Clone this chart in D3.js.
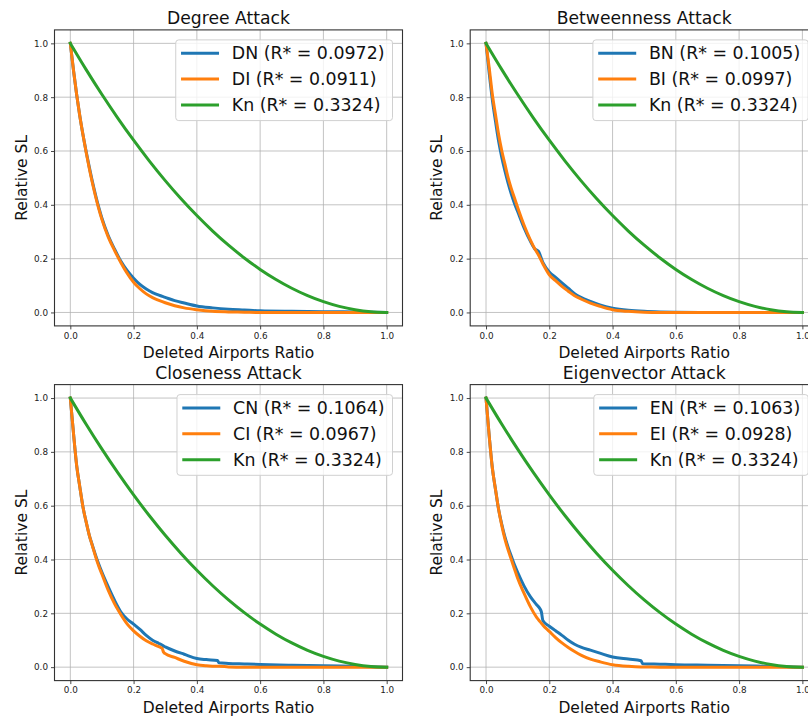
<!DOCTYPE html>
<html>
<head>
<meta charset="utf-8">
<script src="https://cdn.jsdelivr.net/npm/d3@7"></script>
<style>
  html, body { margin: 0; padding: 0; background: #fff; }
  svg { display: block; font-family: "DejaVu Sans", sans-serif; }
</style>
</head>
<body>
<svg id="chart" width="808" height="717"></svg>
<script>
// ---------- data ----------
const xTicks = [0, 0.2, 0.4, 0.6, 0.8, 1.0];
const yTicks = [0, 0.2, 0.4, 0.6, 0.8, 1.0];
const panelTitles = ["Degree Attack", "Betweenness Attack", "Closeness Attack", "Eigenvector Attack"];
const xLabel = "Deleted Airports Ratio";
const yLabel = "Relative SL";

// Kn (common to all panels)
const knX = [0,0.05,0.1,0.15,0.2,0.25,0.3,0.35,0.4,0.45,0.5,0.55,0.6,0.65,0.7,0.75,0.8,0.85,0.9,0.95,1.0];
const knY = [1,0.9025,0.81,0.7225,0.64,0.5625,0.49,0.4225,0.36,0.3025,0.25,0.2025,0.16,0.1225,0.09,0.0625,0.04,0.0225,0.01,0.0025,0];
const knLabel = "Kn (R* = 0.3324)";

// Degree
const dX  = [0,.01,.02,.03,.04,.05,.06,.07,.08,.09,.10,.12,.14,.16,.18,.20,.22,.24,.26,.28,.30,.33,.36,.40,.45,.50,.55,.60,.70,.80,.90,1.0];
const dnY = [1,.90,.81,.73,.66,.598,.54,.485,.435,.39,.35,.285,.235,.19,.155,.127,.104,.087,.074,.064,.056,.044,.035,.024,.017,.012,.009,.006,.004,.003,.002,0];
const diY = [1,.90,.81,.73,.66,.595,.535,.48,.43,.385,.345,.28,.23,.185,.145,.112,.088,.069,.055,.045,.036,.025,.017,.010,.004,.002,.001,0,0,0,0,0];

// Betweenness
const bX  = [0,.01,.02,.03,.04,.05,.06,.07,.08,.09,.10,.12,.14,.155,.16,.165,.18,.20,.22,.24,.26,.28,.30,.33,.36,.40,.45,.50,.55,.60,.70,.80,.90,1.0];
const bnY = [1,.89,.79,.71,.635,.575,.525,.48,.44,.405,.375,.315,.265,.235,.232,.228,.185,.15,.13,.11,.09,.07,.056,.041,.028,.016,.008,.004,.002,.001,0,0,0,0];
const biY = [1,.91,.81,.735,.66,.60,.55,.50,.46,.425,.39,.325,.27,.235,.225,.215,.18,.14,.118,.097,.079,.062,.05,.035,.023,.01,.004,.001,0,0,0,0,0,0];

// Closeness
const cX  = [0,.01,.02,.03,.04,.05,.06,.07,.08,.09,.10,.12,.14,.16,.18,.20,.22,.24,.26,.28,.29,.295,.30,.33,.36,.40,.43,.465,.47,.50,.55,.60,.70,.80,.90,1.0];
const cnY = [1,.87,.75,.67,.595,.54,.49,.452,.415,.382,.352,.298,.248,.205,.178,.16,.14,.118,.1,.088,.082,.078,.075,.06,.048,.032,.028,.025,.016,.014,.012,.01,.007,.005,.003,0];
const ciY = [1,.87,.75,.67,.595,.54,.49,.45,.41,.375,.345,.285,.235,.195,.16,.135,.115,.098,.086,.076,.07,.055,.05,.036,.022,.009,.005,.003,.003,.001,0,0,0,0,0,0];

// Eigenvector
const eX  = [0,.01,.02,.03,.04,.05,.06,.07,.08,.09,.10,.12,.14,.16,.17,.175,.18,.20,.22,.24,.26,.28,.30,.33,.36,.40,.45,.49,.495,.55,.60,.70,.80,.90,1.0];
const enY = [1,.86,.74,.66,.585,.53,.483,.445,.412,.38,.352,.302,.262,.232,.218,.205,.172,.152,.135,.118,.1,.085,.074,.063,.052,.038,.03,.024,.013,.011,.009,.007,.005,.003,0];
const eiY = [1,.86,.74,.66,.585,.525,.475,.435,.40,.365,.33,.275,.225,.185,.17,.163,.156,.133,.11,.09,.073,.058,.045,.03,.02,.009,.003,.001,.001,0,0,0,0,0,0];

const seriesLabels = [
  ["DN (R* = 0.0972)", "DI (R* = 0.0911)"],
  ["BN (R* = 0.1005)", "BI (R* = 0.0997)"],
  ["CN (R* = 0.1064)", "CI (R* = 0.0967)"],
  ["EN (R* = 0.1063)", "EI (R* = 0.0928)"]
];
const colors = ["#1f77b4", "#ff7f0e", "#2ca02c"];

// ---------- build ----------
const zip = (xs, ys) => xs.map((x, i) => ({x, y: ys[i]}));
const panelData = [
  [zip(dX, dnY), zip(dX, diY)],
  [zip(bX, bnY), zip(bX, biY)],
  [zip(cX, cnY), zip(cX, ciY)],
  [zip(eX, enY), zip(eX, eiY)]
];

const svg = d3.select("#chart");
const axW = 348, axH = 296;
const origins = [[54.5, 29.9], [470.2, 29.9], [54.5, 384.6], [470.2, 384.6]];

panelData.forEach((pd, pi) => {
  const [ox, oy] = origins[pi];
  const g = svg.append("g").attr("transform", `translate(${ox},${oy})`);
  const x = d3.scaleLinear().domain([-0.05, 1.05]).range([0, axW]);
  const y = d3.scaleLinear().domain([-0.05, 1.05]).range([axH, 0]);

  // grid
  g.append("g").selectAll("line").data(xTicks).join("line")
    .attr("x1", d => x(d)).attr("x2", d => x(d)).attr("y1", 0).attr("y2", axH)
    .attr("stroke", "#b0b0b0").attr("stroke-width", 1).attr("opacity", 0.75);
  g.append("g").selectAll("line").data(yTicks).join("line")
    .attr("y1", d => y(d)).attr("y2", d => y(d)).attr("x1", 0).attr("x2", axW)
    .attr("stroke", "#b0b0b0").attr("stroke-width", 1).attr("opacity", 0.75);

  // clip
  const cid = "clip" + pi;
  g.append("clipPath").attr("id", cid).append("rect").attr("width", axW).attr("height", axH);

  const line = d3.line().x(d => x(d.x)).y(d => y(d.y)).curve(d3.curveMonotoneX);
  const lines = g.append("g").attr("clip-path", `url(#${cid})`);
  const all = [pd[0], pd[1], zip(knX, knY)];
  all.forEach((s, si) => {
    lines.append("path").datum(s).attr("d", line)
      .attr("fill", "none").attr("stroke", colors[si]).attr("stroke-width", 3)
      .attr("stroke-linejoin", "round").attr("stroke-linecap", "square");
  });

  // axes
  const xAxis = d3.axisBottom(x).tickValues(xTicks).tickFormat(d3.format(".1f")).tickSizeOuter(0).tickSize(3.5).tickPadding(3);
  const yAxis = d3.axisLeft(y).tickValues(yTicks).tickFormat(d3.format(".1f")).tickSizeOuter(0).tickSize(3.5).tickPadding(3);
  const gx = g.append("g").attr("transform", `translate(0,${axH})`).call(xAxis);
  const gy = g.append("g").call(yAxis);
  [gx, gy].forEach(a => {
    a.select(".domain").remove();
    a.selectAll(".tick line").attr("stroke", "#333").attr("stroke-width", 0.9);
    a.selectAll(".tick text").attr("fill", "#222").style("font-size", "8.8px").style("font-family", "DejaVu Sans");
  });
  gx.selectAll(".tick text").attr("dy", "0.72em");

  // frame
  g.append("rect").attr("width", axW).attr("height", axH)
    .attr("fill", "none").attr("stroke", "#333").attr("stroke-width", 1.1);

  // titles / labels
  g.append("text").attr("x", axW / 2).attr("y", -5.6).attr("text-anchor", "middle")
    .style("font-size", "17.2px").attr("fill", "#111").text(panelTitles[pi]);
  g.append("text").attr("x", axW / 2).attr("y", axH + 32.5).attr("text-anchor", "middle")
    .style("font-size", "15.5px").attr("fill", "#111").text(xLabel);
  g.append("text").attr("transform", `translate(-28,${axH / 2}) rotate(-90)`).attr("text-anchor", "middle")
    .style("font-size", "15.5px").attr("fill", "#111").text(yLabel);

  // legend
  const labels = [seriesLabels[pi][0], seriesLabels[pi][1], knLabel];
  const lg = g.append("g");
  const texts = labels.map((t, i) => lg.append("text").style("font-size", "17.4px").attr("fill", "#111").text(t));
  const tw = d3.max(texts, t => t.node().getComputedTextLength());
  const bw = tw + 64, bh = 80.7;
  const bx = axW - 10 - bw, by = 10;
  lg.insert("rect", ":first-child").attr("x", bx).attr("y", by).attr("width", bw).attr("height", bh)
    .attr("rx", 3).attr("fill", "#fff").attr("fill-opacity", 0.8).attr("stroke", "#d0d0d0").attr("stroke-width", 1);
  texts.forEach((t, i) => {
    const cy = by + 13.3 + i * 25.9;
    t.attr("x", bx + 56).attr("y", cy).attr("dy", "0.36em");
    lg.append("line").attr("x1", bx + 5.3).attr("x2", bx + 43.3).attr("y1", cy).attr("y2", cy)
      .attr("stroke", colors[i]).attr("stroke-width", 3);
  });
});
</script>
</body>
</html>
